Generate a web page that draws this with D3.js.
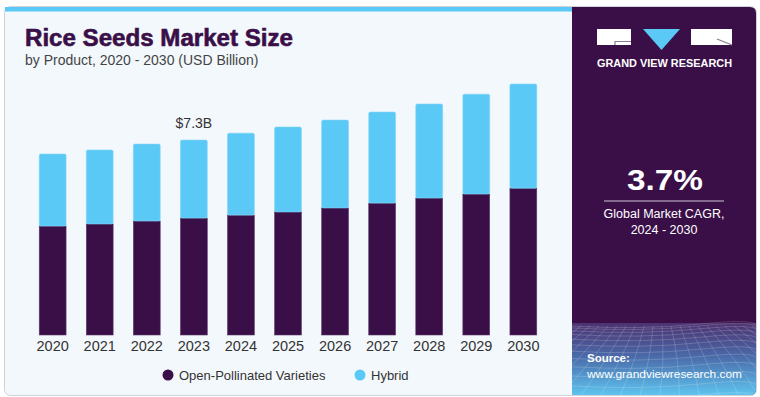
<!DOCTYPE html>
<html>
<head>
<meta charset="utf-8">
<script src="https://cdn.jsdelivr.net/npm/d3@7"></script>
<style>
  body { margin: 0; background: #fff; }
  svg { display: block; font-family: "Liberation Sans", Arial, sans-serif; }
</style>
</head>
<body>
<svg width="760" height="397"></svg>
<script>
const years = ['2020', '2021', '2022', '2023', '2024', '2025', '2026', '2027', '2028', '2029', '2030'];
const openPollinated = [4.08, 4.16, 4.27, 4.38, 4.49, 4.61, 4.76, 4.94, 5.13, 5.28, 5.50];
const hybrid = [2.70, 2.77, 2.88, 2.92, 3.07, 3.18, 3.29, 3.41, 3.52, 3.74, 3.90];
const seriesNames = ['Open-Pollinated Varieties', 'Hybrid'];
const annotations = [{ year: '2023', label: '$7.3B' }];

const dark = '#3a0f48';
const blue = '#5bc9f6';

function drawChart() {
  const svg = d3.select('svg');
  const defs = svg.append('defs');

  // card
  svg.append('rect')
      .attr('x', 4.5).attr('y', 6.5)
      .attr('width', 752).attr('height', 389)
      .attr('rx', 6)
      .attr('fill', '#f3f8fc')
      .attr('stroke', '#cfd3d8');
  svg.append('rect')
      .attr('x', 5).attr('y', 7)
      .attr('width', 568).attr('height', 4.5)
      .attr('fill', blue);

  // right panel
  const grad = defs.append('linearGradient')
      .attr('id', 'panelGrad')
      .attr('x1', 0).attr('y1', 0).attr('x2', 0).attr('y2', 1);
  grad.append('stop').attr('offset', '0%').attr('stop-color', '#4d3270');
  grad.append('stop').attr('offset', '45%').attr('stop-color', '#4a69a8');
  grad.append('stop').attr('offset', '100%').attr('stop-color', '#5ec6f1');

  defs.append('clipPath').attr('id', 'panelClip')
    .append('path')
      .attr('d', 'M572,7 H750 Q756,7 756,13 V389 Q756,395 750,395 H572 Z');

  const panel = svg.append('g').attr('clip-path', 'url(#panelClip)');
  panel.append('rect')
      .attr('x', 572).attr('y', 7).attr('width', 185).attr('height', 389)
      .attr('fill', dark);
  panel.append('rect')
      .attr('x', 572).attr('y', 323).attr('width', 185).attr('height', 73)
      .attr('fill', 'url(#panelGrad)');

  // mesh decoration
  const mesh = panel.append('g')
      .attr('stroke', '#ffffff')
      .attr('stroke-opacity', 0.22)
      .attr('fill', 'none')
      .attr('stroke-width', 0.8);
  d3.range(0, 14).forEach(i => {
    const y = 326 + i * i * 0.45 + i * 1.5;
    mesh.append('path')
        .attr('d', `M572,${y} Q640,${y + 4} 700,${y - 2} T757,${y + 1}`);
  });
  d3.range(-10, 22).forEach(i => {
    const xt = 572 + i * 9;
    const xb = 664 + (xt - 664) * 2.2;
    mesh.append('path')
        .attr('d', `M${xt},326 Q${(xt + xb) / 2 + 4},360 ${xb},396`);
  });

  // logo
  const logo = svg.append('g');
  logo.append('rect').attr('x', 597).attr('y', 29).attr('width', 34).attr('height', 16).attr('fill', '#fff');
  logo.append('path')
      .attr('d', 'M615,45 V41.5 H631')
      .attr('stroke', '#8a7a98').attr('stroke-width', 1.2).attr('fill', 'none');
  logo.append('path')
      .attr('d', 'M643,29 H680 L661.5,50 Z')
      .attr('fill', blue);
  logo.append('rect').attr('x', 691).attr('y', 29).attr('width', 41).attr('height', 16).attr('fill', '#fff');
  logo.append('path')
      .attr('d', 'M717,39 L732,45')
      .attr('stroke', '#8a7a98').attr('stroke-width', 1.2).attr('fill', 'none');
  logo.append('text')
      .attr('x', 664.5).attr('y', 66.5)
      .attr('text-anchor', 'middle')
      .attr('fill', '#fff')
      .attr('font-size', 10.5)
      .attr('font-weight', 'bold')
      .attr('textLength', 135)
      .attr('lengthAdjust', 'spacingAndGlyphs')
      .text('GRAND VIEW RESEARCH');

  // CAGR
  svg.append('text')
      .attr('x', 665).attr('y', 190)
      .attr('text-anchor', 'middle')
      .attr('fill', '#fff')
      .attr('font-size', 30)
      .attr('font-weight', 'bold')
      .attr('textLength', 76)
      .attr('lengthAdjust', 'spacingAndGlyphs')
      .text('3.7%');
  svg.append('line')
      .attr('x1', 604).attr('x2', 724)
      .attr('y1', 201).attr('y2', 201)
      .attr('stroke', '#cfc6d6').attr('stroke-width', 1.2);
  svg.append('text')
      .attr('x', 664).attr('y', 218)
      .attr('text-anchor', 'middle')
      .attr('fill', '#fff')
      .attr('font-size', 12.5)
      .text('Global Market CAGR,');
  svg.append('text')
      .attr('x', 664).attr('y', 234)
      .attr('text-anchor', 'middle')
      .attr('fill', '#fff')
      .attr('font-size', 12.5)
      .text('2024 - 2030');

  // source
  svg.append('text')
      .attr('x', 587).attr('y', 362)
      .attr('fill', '#fff')
      .attr('font-size', 11.5)
      .attr('font-weight', 'bold')
      .text('Source:');
  svg.append('text')
      .attr('x', 587).attr('y', 378)
      .attr('fill', '#fff')
      .attr('font-size', 11.5)
      .attr('textLength', 155)
      .attr('lengthAdjust', 'spacingAndGlyphs')
      .text('www.grandviewresearch.com');

  // titles
  svg.append('text')
      .attr('x', 25).attr('y', 46)
      .attr('fill', dark)
      .attr('font-size', 23)
      .attr('font-weight', 'bold')
      .attr('stroke', dark)
      .attr('stroke-width', 0.6)
      .attr('textLength', 268)
      .attr('lengthAdjust', 'spacingAndGlyphs')
      .text('Rice Seeds Market Size');
  svg.append('text')
      .attr('x', 25).attr('y', 65)
      .attr('fill', '#444')
      .attr('font-size', 14)
      .text('by Product, 2020 - 2030 (USD Billion)');

  // chart
  const xScale = d3.scaleBand()
      .domain(years)
      .range([19, 557])
      .paddingInner(0.43)
      .paddingOuter(0.43);
  const yScale = d3.scaleLinear()
      .domain([0, 10])
      .range([335, 68]);

  const table = years.map((year, i) => ({
    year,
    open: openPollinated[i],
    hybrid: hybrid[i]
  }));
  const stack = d3.stack().keys(['open', 'hybrid'])(table);
  const colors = [dark, blue];

  stack.forEach((layer, k) => {
    svg.append('g')
        .attr('fill', colors[k])
        .selectAll('rect')
        .data(layer)
        .join('rect')
        .attr('x', d => xScale(d.data.year))
        .attr('width', xScale.bandwidth())
        .attr('y', d => yScale(d[1]))
        .attr('height', d => yScale(d[0]) - yScale(d[1]))
        .attr('rx', k === 1 ? 1.5 : 0)
        .attr('stroke', k === 1 ? '#7fd3f7' : '#5b3a69')
        .attr('stroke-width', 0.6);
  });

  const xAxis = d3.axisBottom(xScale).tickSize(0).tickPadding(6);
  const xAxisG = svg.append('g')
      .attr('transform', 'translate(0, 335)')
      .call(xAxis);
  xAxisG.select('.domain').remove();
  xAxisG.selectAll('text')
      .attr('font-size', 14.5)
      .attr('font-family', '"Liberation Sans", Arial, sans-serif')
      .attr('fill', '#333');

  annotations.forEach(a => {
    const i = years.indexOf(a.year);
    svg.append('text')
        .attr('x', xScale(a.year) + xScale.bandwidth() / 2)
        .attr('y', yScale(openPollinated[i] + hybrid[i]) - 12)
        .attr('text-anchor', 'middle')
        .attr('fill', '#333')
        .attr('font-size', 14)
        .text(a.label);
  });

  // legend
  const legendX = [168, 360];
  seriesNames.forEach((name, k) => {
    const g = svg.append('g').attr('transform', `translate(${legendX[k]}, 375)`);
    g.append('circle').attr('r', 5.5).attr('fill', colors[k]);
    g.append('text')
        .attr('x', 11).attr('y', 5)
        .attr('fill', '#333')
        .attr('font-size', 13)
        .text(name);
  });
}

drawChart();
</script>
</body>
</html>
